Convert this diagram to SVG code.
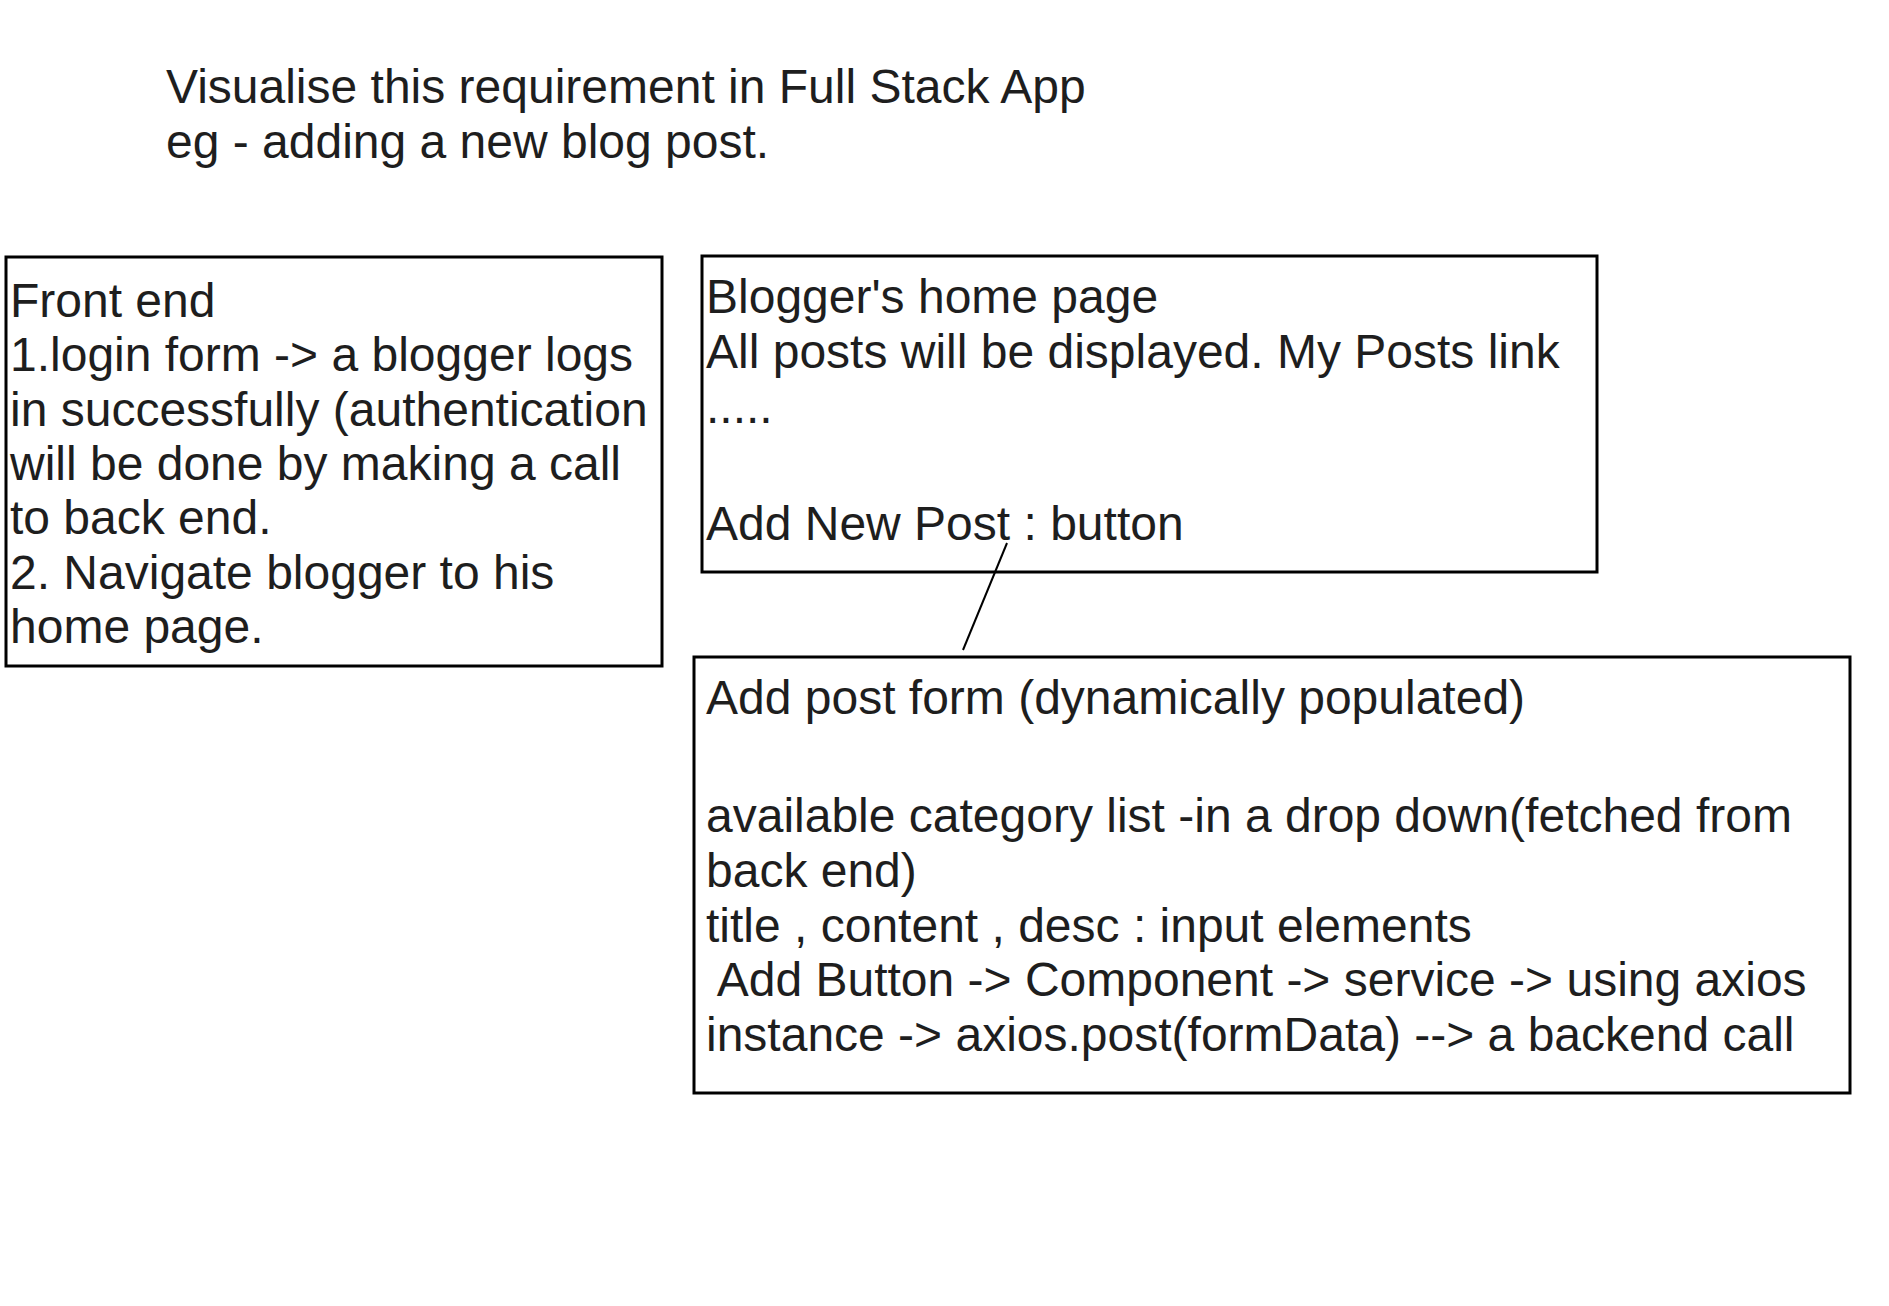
<svg xmlns="http://www.w3.org/2000/svg" width="1889" height="1306" viewBox="0 0 1889 1306">
<style>
  .t { font-family: "Liberation Sans", Arial, Helvetica, sans-serif; font-size: 48px; fill: #1e1e1e; }
  .box { fill: #ffffff; stroke: #000000; stroke-width: 3; }
  .conn { stroke: #000000; stroke-width: 2; fill: none; }
</style>
<rect x="0" y="0" width="1889" height="1306" fill="#ffffff"/>
<g id="title">
  <text class="t" x="166" y="103">Visualise this requirement in Full Stack App</text>
  <text class="t" x="166" y="158">eg - adding a new blog post.</text>
</g>
<g id="front-end">
  <rect class="box" x="6" y="257" width="656" height="409"/>
  <text class="t" x="10" y="317">Front end</text>
  <text class="t" x="10" y="371.3">1.login form -&gt; a blogger logs</text>
  <text class="t" x="10" y="425.6">in successfully (authentication</text>
  <text class="t" x="10" y="479.9">will be done by making a call</text>
  <text class="t" x="10" y="534.2">to back end.</text>
  <text class="t" x="10" y="588.5">2. Navigate blogger to his</text>
  <text class="t" x="10" y="642.8">home page.</text>
</g>
<g id="home-page">
  <rect class="box" x="702" y="256" width="895" height="316"/>
  <text class="t" x="706" y="313">Blogger's home page</text>
  <text class="t" x="706" y="368">All posts will be displayed. My Posts link</text>
  <text class="t" x="706" y="423">.....</text>
  <text class="t" x="706" y="540">Add New Post : button</text>
</g>
<g id="add-post-form">
  <rect class="box" x="694" y="657" width="1156" height="436"/>
  <text class="t" x="706" y="714">Add post form (dynamically populated)</text>
  <text class="t" x="706" y="832">available category list -in a drop down(fetched from</text>
  <text class="t" x="706" y="887">back end)</text>
  <text class="t" x="706" y="942">title , content , desc : input elements</text>
  <text class="t" x="706" y="996" xml:space="preserve"> Add Button -&gt; Component -&gt; service -&gt; using axios</text>
  <text class="t" x="706" y="1051">instance -&gt; axios.post(formData) --&gt; a backend call</text>
</g>
<g id="connectors">
  <line class="conn" x1="1007" y1="543" x2="963" y2="650"/>
</g>
</svg>
